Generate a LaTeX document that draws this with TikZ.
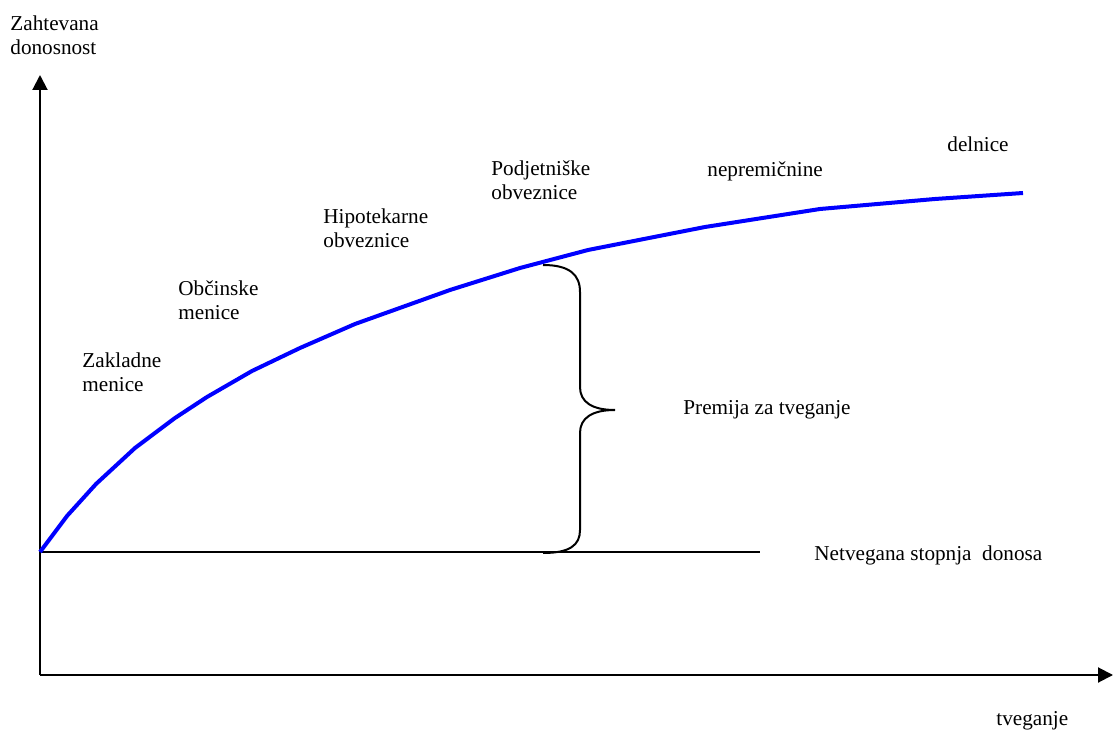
\documentclass[tikz,border=0pt]{standalone}
\usepackage{fontspec}
\setmainfont{Liberation Serif}
\usetikzlibrary{arrows.meta}
\begin{document}
\begin{tikzpicture}[x=0.5pt,y=-0.5pt,
  lbl/.style={anchor=base west,inner sep=0pt,align=left,
    font=\fontsize{10.6pt}{12pt}\selectfont},
  axis/.style={line width=1pt,-{Triangle[length=7.5pt,width=7.5pt]}},
  curve/.style={line width=2pt,blue,line join=round},
  bracestyle/.style={line width=1pt}]
\useasboundingbox (0,0) rectangle (1113,731);

% axes
\coordinate (O) at (40,675);
\coordinate (ytip) at (40,75);
\coordinate (xtip) at (1113,675);
\draw[axis] (O) -- (ytip);
\draw[axis] (O) -- (xtip);

% risk-free rate line
\coordinate (rf0) at (40,552);
\coordinate (rf1) at (760,552);
\draw[line width=1pt] (rf0) -- (rf1);

% required return curve
\draw[curve] (40,552) -- (67,516) -- (96,484) -- (135,448) -- (175,418)
  -- (207,397) -- (252,371) -- (300,348) -- (355,324) -- (450,290)
  -- (520,268) -- (588,250) -- (705,227) -- (820,209) -- (935,199)
  -- (1023,193);

% brace for the risk premium
\draw[bracestyle] (543,265) .. controls (570,265) and (580,275) .. (580,292)
  -- (580,387) .. controls (580,402) and (592,410) .. (615,410)
  .. controls (592,410) and (580,418) .. (580,433)
  -- (580,530) .. controls (580,545) and (570,553) .. (543,553);

% labels (two-line labels are placed by the baseline of their last line)
\node[lbl] (yl) at (10,55) {Zahtevana\\donosnost};
\node[lbl] (zak) at (82,392) {Zakladne\\menice};
\node[lbl] (obc) at (178,320) {Občinske\\menice};
\node[lbl] (hip) at (323,248) {Hipotekarne\\obveznice};
\node[lbl] (pod) at (491,200) {Podjetniške\\obveznice};
\node[lbl] (nep) at (707,177) {nepremičnine};
\node[lbl] (del) at (947,152) {delnice};
\node[lbl] (prem) at (683,415) {Premija za tveganje};
\node[lbl] (netv) at (814,560) {Netvegana stopnja\ \ donosa};
\node[lbl] (xl) at (996,725) {tveganje};
\end{tikzpicture}
\end{document}
